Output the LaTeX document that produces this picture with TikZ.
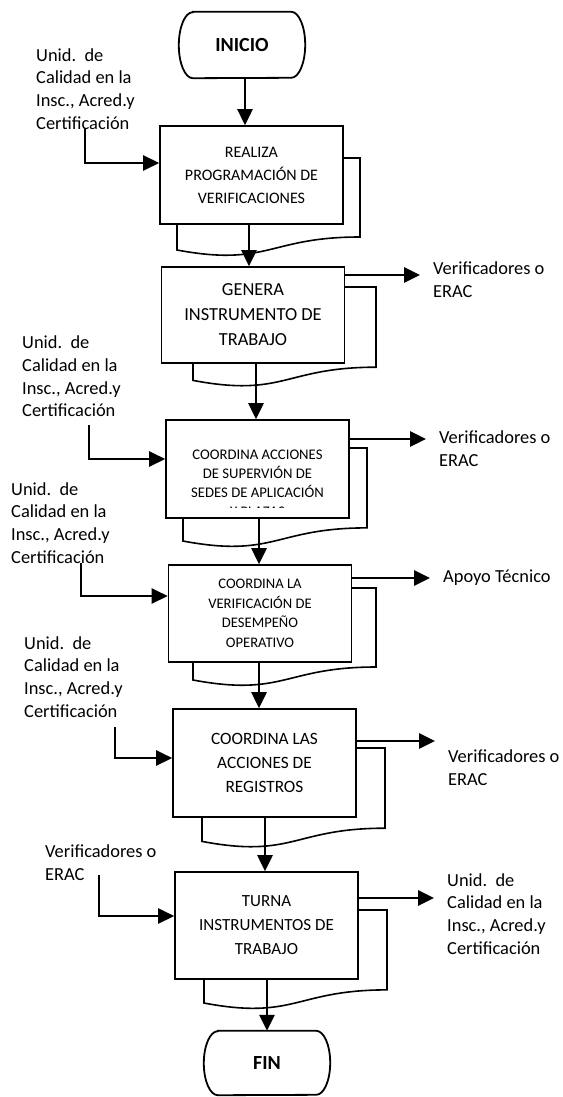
\documentclass[tikz,border=0pt]{standalone}
\usepackage{fontspec}
\setmainfont{Carlito}
\usetikzlibrary{arrows.meta}

% document symbol drawn behind a process box: #1 left, #2 right, #3 top, #4 height
\newcommand\docpage[4]{%
  \draw[page] (#1,#3) -- (#2,#3) -- (#2,#3+0.802*#4)
    .. controls ({(#1+#2)/2},#3+0.802*#4) and ({(#1+#2)/2},#3+1.107*#4) ..
    (#1,#3+0.934*#4) -- cycle;}

\begin{document}
\begin{tikzpicture}[x=1pt,y=-1pt,
  proc/.style={draw, line width=1.6pt, fill=white, inner sep=0pt, align=center, minimum width=183pt},
  page/.style={draw, line width=1.6pt, fill=white},
  arr/.style={line width=2.7pt, -{Triangle[length=16pt,width=15pt]}},
  feed/.style={line width=2.5pt, -{Triangle[length=16pt,width=15pt]}},
  outarr/.style={arr, shorten >=13pt},
  lbl/.style={anchor=west, inner sep=0pt, align=left, font=\fontsize{18.4}{22.7}\selectfont},
  termtext/.style={inner sep=0pt, minimum width=98pt, font=\bfseries\fontsize{20}{24}\selectfont},
  term/.style={line width=1.8pt},
]
\useasboundingbox (0,0) rectangle (562,1097);

% start terminal
\node[termtext, minimum height=66pt] (start) at (242,45) {INICIO};
\draw[term] (start.north west) -- (start.north east)
  arc[start angle=90, end angle=-90, x radius=14pt, y radius=33pt]
  -- (start.south west)
  arc[start angle=270, end angle=90, x radius=14pt, y radius=33pt] -- cycle;

% document symbols behind the process boxes
\docpage{177}{360}{158}{98.5}
\docpage{193}{376}{287}{100}
\docpage{183}{367}{448}{99.6}
\docpage{193}{376}{588}{98.5}
\docpage{202}{385}{748}{100}
\docpage{204}{387}{910}{99.6}

% process boxes
\node[proc, minimum height=98pt, font=\fontsize{16}{23}\selectfont] (b1) at (251.5,175)
  {REALIZA\\PROGRAMACIÓN DE\\VERIFICACIONES};
\node[proc, minimum height=96pt, font=\fontsize{18.4}{25}\selectfont] (b2) at (253,315)
  {GENERA\\INSTRUMENTO DE\\TRABAJO};
\node[proc, minimum height=98pt] (b3) at (257.5,469) {};
\begin{scope}
  \clip (166,420) rectangle (349,507.5);
  \node[inner sep=0pt, align=center, font=\fontsize{14.7}{19}\selectfont] (t3) at (257.5,483.5)
    {COORDINA ACCIONES\\DE SUPERVIÓN DE\\SEDES DE APLICACIÓN\\Y PLAZAS};
\end{scope}
\node[proc, minimum height=97pt, font=\fontsize{14.6}{19.5}\selectfont] (b4) at (260,613.5)
  {COORDINA LA\\VERIFICACIÓN DE\\DESEMPEÑO\\OPERATIVO};
\node[proc, minimum height=108pt, font=\fontsize{17.3}{24}\selectfont] (b5) at (264.5,763)
  {COORDINA LAS\\ACCIONES DE\\REGISTROS};
\node[proc, minimum height=107pt, font=\fontsize{17}{24}\selectfont] (b6) at (266.5,925.5)
  {TURNA\\INSTRUMENTOS DE\\TRABAJO};

% end terminal
\node[termtext, minimum height=64pt] (end) at (267,1063) {FIN};
\draw[term] (end.north west) -- (end.north east)
  arc[start angle=90, end angle=-90, x radius=14pt, y radius=32pt]
  -- (end.south west)
  arc[start angle=270, end angle=90, x radius=14pt, y radius=32pt] -- cycle;

% main flow
\path ([xshift=3pt]start.south) coordinate (a0)
      ([xshift=-2.5pt]b1.south) coordinate (a1)
      ([xshift=3pt]b2.south) coordinate (a2)
      ([xshift=1.5pt]b3.south) coordinate (a3)
      ([xshift=-1pt]b4.south) coordinate (a4)
      ([xshift=0.5pt]b5.south) coordinate (a5)
      ([xshift=0.5pt]b6.south) coordinate (a6);
\draw[arr] (a0) -- (a0 |- b1.north);
\draw[arr] (a1) -- (a1 |- b2.north);
\draw[arr] (a2) -- (a2 |- b3.north);
\draw[arr] (a3) -- (a3 |- b4.north);
\draw[arr] (a4) -- (a4 |- b5.north);
\draw[arr] (a5) -- (a5 |- b6.north);
\draw[arr] (a6) -- (a6 |- end.north);

% incoming units
\node[lbl] (in1) at (36,89) {Unid.\ \ de\\Calidad en la\\Insc., Acred.y\\Certificación};
\node[lbl] (in2) at (22,376.5) {Unid.\ \ de\\Calidad en la\\Insc., Acred.y\\Certificación};
\node[lbl] (in3) at (11,523) {Unid.\ \ de\\Calidad en la\\Insc., Acred.y\\Certificación};
\node[lbl] (in4) at (24,677) {Unid.\ \ de\\Calidad en la\\Insc., Acred.y\\Certificación};
\node[lbl] (in5) at (45,863) {Verificadores o\\ERAC};

\coordinate (f1) at (85,128);
\coordinate (f2) at (89,425);
\coordinate (f3) at (81,563);
\coordinate (f4) at (115,727);
\coordinate (f5) at (99,875);
\draw[feed] (f1) |- (b1.west |- 0,163);
\draw[feed] (f2) |- (b3.west |- 0,459);
\draw[feed] (f3) |- (b4.west |- 0,596);
\draw[feed] (f4) |- (b5.west |- 0,758);
\draw[feed] (f5) |- (b6.west |- 0,916);

% outgoing units
\node[lbl] (o2) at (433,279.5) {Verificadores o\\ERAC};
\node[lbl] (o3) at (439,448.5) {Verificadores o\\ERAC};
\node[lbl] (o4) at (443,578) {Apoyo Técnico};
\node[lbl] (o5) at (448,767.5) {Verificadores o\\ERAC};
\node[lbl] (o6) at (447,914) {Unid.\ \ de\\Calidad en la\\Insc., Acred.y\\Certificación};

\draw[outarr] (b2.east |- 0,275) -- (o2.west |- 0,275);
\draw[outarr] (b3.east |- 0,439) -- (o3.west |- 0,439);
\draw[outarr] (b4.east |- 0,578) -- (o4.west |- 0,578);
\draw[outarr] (b5.east |- 0,741) -- (o5.west |- 0,741);
\draw[outarr] (b6.east |- 0,898) -- (o6.west |- 0,898);
\end{tikzpicture}
\end{document}
